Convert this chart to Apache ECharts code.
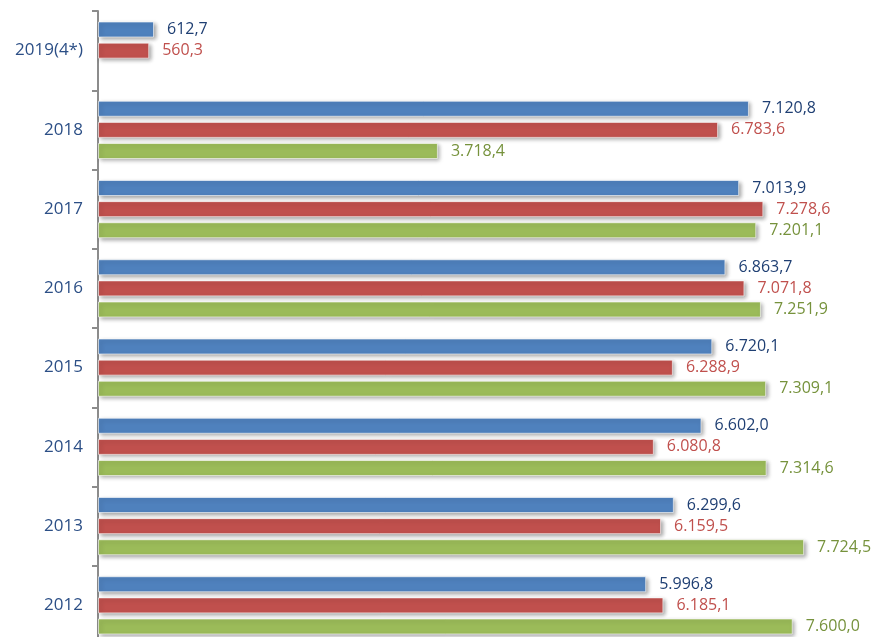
<!DOCTYPE html>
<html>
<head>
<meta charset="utf-8">
<script src="https://cdn.jsdelivr.net/npm/echarts@6/dist/echarts.min.js"></script>
<style>
  html, body { margin: 0; padding: 0; background: #fff; }
  #chart { width: 877px; height: 637px; }
</style>
</head>
<body>
<div id="chart"></div>
<script>
// categorias (de cima para baixo)
var categories = ["2019(4*)", "2018", "2017", "2016", "2015", "2014", "2013", "2012"];
// séries
var serieAzul = [612.7, 7120.8, 7013.9, 6863.7, 6720.1, 6602.0, 6299.6, 5996.8];
var serieVermelha = [560.3, 6783.6, 7278.6, 7071.8, 6288.9, 6080.8, 6159.5, 6185.1];
var serieVerde = [null, 3718.4, 7201.1, 7251.9, 7309.1, 7314.6, 7724.5, 7600.0];

(function () {
    var myChart = echarts.init(document.getElementById("chart"));

    // formato 7.120,8
    function fmt(v) {
        var s = v.toFixed(1).split(".");
        var inteiro = s[0].replace(/\B(?=(\d{3})+(?!\d))/g, ".");
        return inteiro + "," + s[1];
    }

    function serie(nome, dados, cor, corTexto) {
        return {
            name: nome,
            type: "bar",
            data: dados,
            barWidth: 16,
            barGap: "32%",
            itemStyle: {
                color: cor,
                borderColor: "rgba(255,255,255,0.6)",
                borderWidth: 1,
                shadowBlur: 4,
                shadowColor: "rgba(0,0,0,0.35)",
                shadowOffsetX: 2,
                shadowOffsetY: 2
            },
            label: {
                show: true,
                position: "right",
                distance: 13,
                color: corTexto,
                fontFamily: "Open Sans",
                fontSize: 16,
                formatter: function (p) { return fmt(p.value); }
            }
        };
    }

    var option = {
        animation: false,
        grid: {
            left: 98,
            width: 777,
            top: 11,
            height: 634,
            outerBoundsMode: "none"
        },
        xAxis: {
            type: "value",
            min: 0,
            max: 8500,
            show: false
        },
        yAxis: {
            type: "category",
            inverse: true,
            data: categories,
            axisLine: { lineStyle: { color: "#8c8c8c", width: 2 } },
            axisTick: { show: true, length: 6, lineStyle: { color: "#8c8c8c", width: 2 } },
            axisLabel: {
                color: "#2c4f86",
                fontFamily: "Open Sans",
                fontSize: 17,
                margin: 15
            }
        },
        series: [
            serie("Azul", serieAzul, "#4f81bd", "#1f3f73"),
            serie("Vermelho", serieVermelha, "#c0504d", "#c0504d"),
            serie("Verde", serieVerde, "#9bbb59", "#76923c")
        ]
    };
    myChart.setOption(option);
})();
</script>
</body>
</html>
